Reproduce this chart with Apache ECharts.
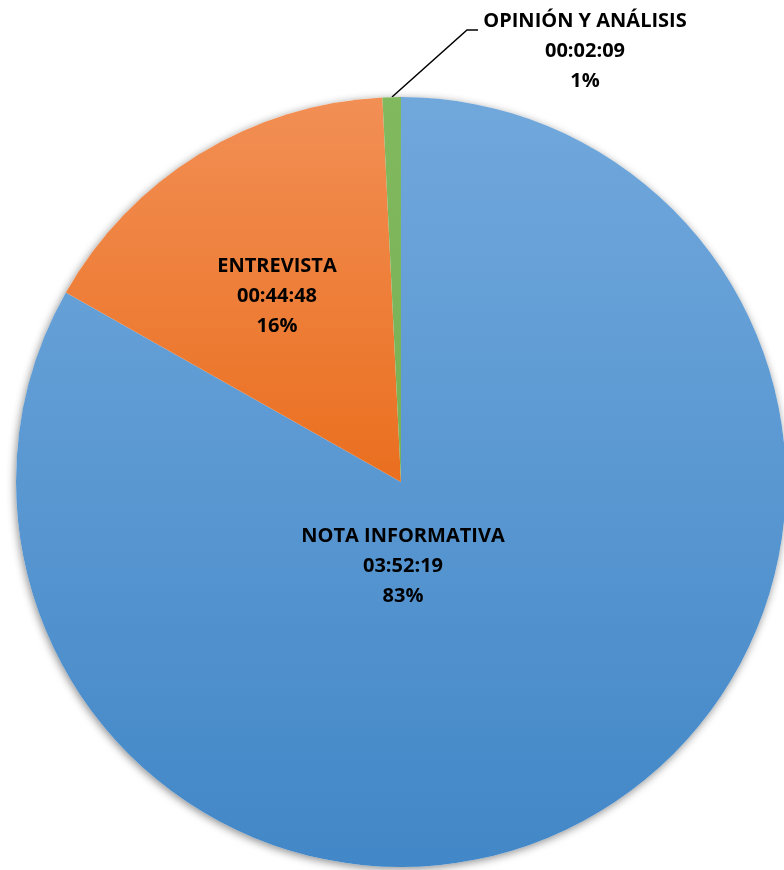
<!DOCTYPE html>
<html>
<head>
<meta charset="utf-8">
<script src="https://cdn.jsdelivr.net/npm/echarts@6/dist/echarts.min.js"></script>
<style>
  html, body { margin: 0; padding: 0; background: #fff; }
  #chart { width: 784px; height: 870px; }
</style>
</head>
<body>
<div id="chart"></div>
<script>
// datos
const categories = ['NOTA INFORMATIVA', 'ENTREVISTA', 'OPINIÓN Y ANÁLISIS'];
const durations = ['03:52:19', '00:44:48', '00:02:09'];

const toSeconds = t => t.split(':').reduce((acc, p) => acc * 60 + Number(p), 0);
const seconds = durations.map(toSeconds);

const grad = (stops) => ({
    type: 'linear', x: 0, y: 97, x2: 0, y2: 867, global: true,
    colorStops: stops.map(s => ({ offset: s[0], color: s[1] }))
});
const sliceColors = [
    grad([[0, '#71A8DC'], [1, '#4287C7']]),
    grad([[0, '#F28F55'], [0.5, '#EA6F1F'], [1, '#E06210']]),
    grad([[0, '#80B95E'], [1, '#6FA84C']])
];

// posiciones de las etiquetas (centro del bloque de texto)
const labelPos = [[403, 566], [277, 296], [585, 51]];

const chart = echarts.init(document.getElementById('chart'));
chart.setOption({
    animation: false,
    series: [
        {
            // sombra bajo el pastel
            type: 'pie',
            silent: true,
            center: [401, 482],
            radius: 385,
            label: { show: false },
            labelLine: { show: false },
            itemStyle: {
                color: '#ffffff',
                shadowBlur: 9,
                shadowColor: 'rgba(0,0,0,0.45)',
                shadowOffsetX: -1,
                shadowOffsetY: 2
            },
            data: [{ value: 1 }]
        },
        {
            type: 'pie',
            center: [401, 482],
            radius: 385,
            startAngle: 90,
            clockwise: true,
            percentPrecision: 0,
            avoidLabelOverlap: false,
            itemStyle: { borderWidth: 0 },
            label: {
                show: true,
                position: 'inside',
                color: '#000',
                fontFamily: 'Open Sans',
                fontWeight: 'bold',
                fontSize: 20,
                lineHeight: 30,
                align: 'center',
                formatter: p => p.name + '\n' + durations[p.dataIndex] + '\n' + p.percent + '%'
            },
            labelLine: { show: false },
            labelLayout: params => {
                const pos = labelPos[params.dataIndex];
                const out = { x: pos[0], y: pos[1], align: 'center', verticalAlign: 'middle' };
                if (params.dataIndex === 2) {
                    out.labelLinePoints = [[392, 97], [467, 30], [478, 30]];
                }
                return out;
            },
            data: categories.map((name, i) => ({
                name: name,
                value: seconds[i],
                itemStyle: { color: sliceColors[i] },
                label: i === 2 ? { position: 'outside' } : undefined,
                labelLine: i === 2 ? { show: true, lineStyle: { color: '#000', width: 1.5 } } : undefined
            }))
        }
    ]
});
</script>
</body>
</html>
